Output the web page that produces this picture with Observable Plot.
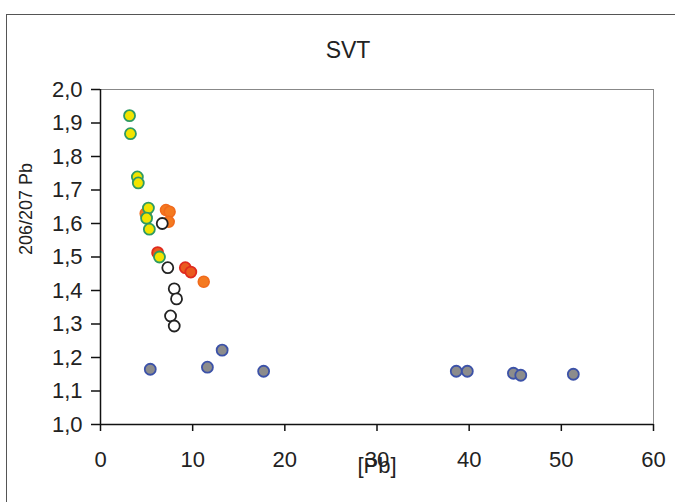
<!DOCTYPE html>
<html>
<head>
<meta charset="utf-8">
<script src="https://cdn.jsdelivr.net/npm/d3@7"></script>
<script src="https://cdn.jsdelivr.net/npm/@observablehq/plot@0.6"></script>
<style>
  html, body { margin: 0; padding: 0; background: #fff; }
  #wrap { position: relative; width: 675px; height: 502px; overflow: hidden; font-family: "Liberation Sans", Arial, sans-serif; }
  #box { position: absolute; left: 6px; top: 14px; width: 700px; height: 600px; border-left: 1px solid #555; border-top: 1px solid #555; }
  #title { position: absolute; left: 0; width: 696px; top: 39px; line-height: 23px; text-align: center; font-size: 23px; color: #222; }
  #chart { position: absolute; left: 0; top: 0; }
</style>
</head>
<body>
<div id="wrap">
  <div id="box"></div>
  <div id="title">SVT</div>
  <div id="chart"></div>
</div>
<script>
// Lead concentration [Pb] vs 206/207 Pb ratio, by sample group
const yellowPb    = [3.15, 3.25, 4.0, 4.1, 5.2, 5.0, 5.3, 6.4];
const yellowRatio = [1.922, 1.868, 1.739, 1.721, 1.646, 1.616, 1.583, 1.50];

const orangePb    = [4.9, 7.1, 7.5, 7.4, 11.2];
const orangeRatio = [1.63, 1.64, 1.635, 1.605, 1.426];

const redPb    = [6.2, 9.2, 9.8];
const redRatio = [1.513, 1.468, 1.455];

const openPb    = [6.7, 7.3, 8.0, 8.25, 7.6, 8.0];
const openRatio = [1.60, 1.468, 1.405, 1.375, 1.324, 1.294];

const greyPb    = [5.4, 11.6, 13.2, 17.7, 38.6, 39.8, 44.8, 45.6, 51.3];
const greyRatio = [1.165, 1.171, 1.222, 1.159, 1.159, 1.159, 1.153, 1.147, 1.150];

const xTicks = [0, 10, 20, 30, 40, 50, 60];
const yTicks = [1.0, 1.1, 1.2, 1.3, 1.4, 1.5, 1.6, 1.7, 1.8, 1.9, 2.0];
const xLabel = "[Pb]";
const yLabel = "206/207 Pb";

const rows = (xs, ys) => xs.map((x, i) => ({x, y: ys[i]}));
const comma = d => d.toFixed(1).replace(".", ",");

const chart = Plot.plot({
  width: 675,
  height: 502,
  marginLeft: 100,
  marginRight: 22,
  marginTop: 89,
  marginBottom: 78,
  style: {fontFamily: "Liberation Sans, Arial, sans-serif", fontSize: "22px", color: "#222", background: "transparent"},
  x: {domain: [0, 60]},
  y: {domain: [1.0, 2.0]},
  marks: [
    Plot.frame({stroke: "#888", strokeWidth: 1}),
    Plot.axisX({ticks: xTicks, tickSize: 7, tickPadding: 20, label: null, fontSize: 22, stroke: "#111", strokeWidth: 1.5}),
    Plot.axisY({ticks: yTicks, tickSize: 9, tickPadding: 9, tickFormat: comma, label: null, fontSize: 22, stroke: "#111", strokeWidth: 1.5}),
    Plot.ruleX([0], {stroke: "#111", strokeWidth: 1.5}),
    Plot.ruleY([1.0], {stroke: "#111", strokeWidth: 1.5}),
    Plot.text([xLabel], {text: d => d, frameAnchor: "bottom", dy: 48, fontSize: 22, fill: "#222"}),
    Plot.text([yLabel], {text: d => d, frameAnchor: "left", dx: -74, dy: -2, rotate: -90, fontSize: 18, fill: "#222"}),
    Plot.dot(rows(greyPb, greyRatio), {x: "x", y: "y", r: 5.5, fill: "#8c8c8c", stroke: "#3c52a8", strokeWidth: 1.8}),
    Plot.dot(rows(orangePb, orangeRatio), {x: "x", y: "y", r: 5.5, fill: "#f47a20", stroke: "#f06a1c", strokeWidth: 1.5}),
    Plot.dot(rows(redPb, redRatio), {x: "x", y: "y", r: 5.5, fill: "#ea5a1e", stroke: "#e02a1e", strokeWidth: 1.8}),
    Plot.dot(rows(openPb, openRatio), {x: "x", y: "y", r: 5.5, fill: "#fff", stroke: "#222", strokeWidth: 1.8}),
    Plot.dot(rows(yellowPb, yellowRatio), {x: "x", y: "y", r: 5.5, fill: "#f2e400", stroke: "#2e9a62", strokeWidth: 1.8})
  ]
});
document.getElementById("chart").appendChild(chart);
</script>
</body>
</html>
